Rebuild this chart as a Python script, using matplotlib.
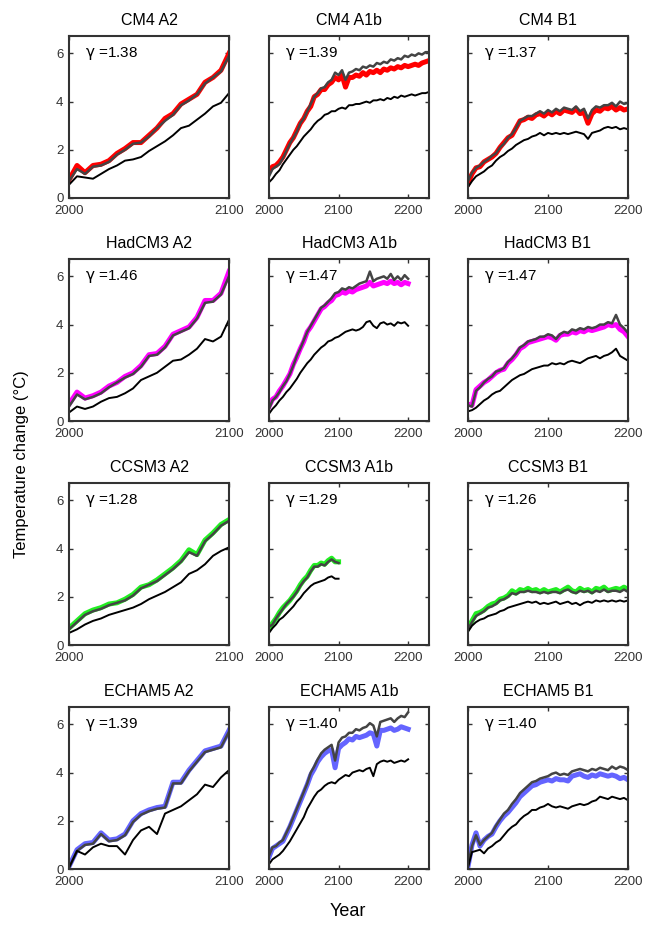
import numpy as np
import matplotlib
matplotlib.use('Agg')
import matplotlib.pyplot as plt

plt.rcParams['font.family'] = ['Liberation Sans', 'DejaVu Sans']

# values every 5 years starting in 2000
# CM4
cm4_a2_c = [0.75, 1.35, 1.05, 1.35, 1.4, 1.55, 1.85, 2.05, 2.3, 2.3, 2.6, 2.9, 3.3, 3.5, 3.9, 4.1, 4.3, 4.8, 5.0, 5.3, 6.0]
cm4_a2_g = [0.7, 1.2, 1.0, 1.3, 1.35, 1.5, 1.8, 2.0, 2.25, 2.3, 2.55, 2.9, 3.2, 3.45, 3.85, 4.05, 4.3, 4.75, 5.0, 5.25, 5.9]
cm4_a2_k = [0.55, 0.9, 0.85, 0.8, 1.0, 1.2, 1.35, 1.55, 1.6, 1.7, 1.95, 2.15, 2.35, 2.6, 2.9, 3.0, 3.25, 3.5, 3.8, 3.95, 4.35]

cm4_a1b_c = [1.1, 1.3, 1.35, 1.5, 1.7, 2.0, 2.3, 2.5, 2.8, 3.1,
             3.3, 3.6, 3.8, 4.2, 4.3, 4.5, 4.5, 4.7, 4.8, 5.0,
             4.9, 5.1, 4.6, 5.0, 5.0, 5.1, 5.05, 5.2, 5.1, 5.25,
             5.2, 5.3, 5.2, 5.35, 5.3, 5.4, 5.35, 5.45, 5.4, 5.5,
             5.45, 5.5, 5.55, 5.5, 5.6, 5.65, 5.7]
cm4_a1b_g = [0.9, 1.2, 1.3, 1.4, 1.65, 1.95, 2.25, 2.5, 2.75, 3.1,
             3.3, 3.6, 3.9, 4.2, 4.35, 4.55, 4.6, 4.8, 4.9, 5.2,
             5.1, 5.3, 4.9, 5.2, 5.25, 5.35, 5.3, 5.45, 5.4, 5.5,
             5.45, 5.6, 5.55, 5.65, 5.6, 5.75, 5.7, 5.8, 5.75, 5.9,
             5.85, 5.95, 5.9, 6.0, 5.95, 6.05, 6.05]
cm4_a1b_k = [0.65, 0.8, 1.0, 1.15, 1.4, 1.6, 1.8, 2.0, 2.15, 2.35,
             2.55, 2.7, 2.85, 3.05, 3.2, 3.3, 3.45, 3.5, 3.6, 3.6,
             3.7, 3.75, 3.7, 3.85, 3.85, 3.9, 3.9, 3.95, 4.0, 3.95,
             4.05, 4.05, 4.1, 4.05, 4.15, 4.1, 4.2, 4.15, 4.25, 4.2,
             4.25, 4.3, 4.25, 4.3, 4.35, 4.35, 4.4]

cm4_b1_c = [0.6, 1.0, 1.25, 1.3, 1.5, 1.6, 1.7, 1.85, 2.1, 2.3,
            2.5, 2.6, 2.9, 3.2, 3.25, 3.35, 3.3, 3.45, 3.5, 3.4,
            3.55, 3.45, 3.6, 3.5, 3.65, 3.6, 3.55, 3.7, 3.5, 3.55,
            3.1, 3.5, 3.65, 3.6, 3.75, 3.7, 3.8, 3.65, 3.75, 3.65, 3.7]
cm4_b1_g = [0.7, 1.05, 1.25, 1.35, 1.5, 1.6, 1.75, 1.85, 2.1, 2.25,
            2.5, 2.65, 2.9, 3.2, 3.3, 3.4, 3.4, 3.5, 3.6, 3.5,
            3.65, 3.55, 3.7, 3.6, 3.75, 3.7, 3.65, 3.8, 3.6, 3.7,
            3.3, 3.65, 3.8, 3.75, 3.85, 3.85, 3.95, 3.8, 4.0, 3.9, 3.95]
cm4_b1_k = [0.45, 0.7, 0.9, 1.0, 1.1, 1.25, 1.35, 1.55, 1.7, 1.8,
            1.95, 2.05, 2.2, 2.3, 2.4, 2.45, 2.55, 2.6, 2.7, 2.6,
            2.7, 2.65, 2.7, 2.65, 2.7, 2.65, 2.7, 2.75, 2.7, 2.65,
            2.45, 2.7, 2.75, 2.8, 2.9, 2.95, 2.9, 2.95, 2.85, 2.9, 2.85]

# HadCM3
had_a2_c = [0.7, 1.2, 0.95, 1.05, 1.2, 1.45, 1.6, 1.85, 2.0, 2.3, 2.75, 2.8, 3.1, 3.6, 3.75, 3.9, 4.3, 5.0, 5.0, 5.3, 6.2]
had_a2_g = [0.6, 1.1, 0.9, 1.0, 1.15, 1.4, 1.6, 1.8, 1.95, 2.25, 2.7, 2.75, 3.05, 3.55, 3.7, 3.85, 4.25, 4.9, 4.95, 5.25, 6.0]
had_a2_k = [0.35, 0.6, 0.5, 0.6, 0.8, 0.95, 1.0, 1.15, 1.35, 1.7, 1.85, 2.0, 2.25, 2.5, 2.55, 2.75, 3.0, 3.4, 3.3, 3.5, 4.2]

had_a1b_c = [0.6, 0.9, 1.0, 1.25, 1.45, 1.7, 1.95, 2.35, 2.65, 3.0,
             3.3, 3.7, 3.9, 4.15, 4.4, 4.65, 4.75, 4.9, 5.0, 5.2,
             5.25, 5.35, 5.3, 5.4, 5.35, 5.45, 5.5, 5.55, 5.6, 5.75,
             5.6, 5.65, 5.7, 5.75, 5.7, 5.8, 5.7, 5.75, 5.65, 5.75, 5.7]
had_a1b_g = [0.5, 0.85, 1.0, 1.2, 1.45, 1.65, 1.95, 2.3, 2.7, 3.0,
             3.35, 3.7, 3.95, 4.2, 4.45, 4.7, 4.8, 4.95, 5.1, 5.3,
             5.35, 5.5, 5.45, 5.55, 5.5, 5.6, 5.7, 5.75, 5.8, 6.2,
             5.8, 5.9, 5.95, 6.0, 5.9, 6.1, 5.85, 6.0, 5.85, 6.05, 5.9]
had_a1b_k = [0.3, 0.5, 0.65, 0.85, 1.0, 1.2, 1.35, 1.55, 1.75, 2.0,
             2.2, 2.4, 2.55, 2.75, 2.9, 3.05, 3.15, 3.3, 3.35, 3.45,
             3.5, 3.6, 3.7, 3.75, 3.8, 3.75, 3.8, 3.9, 4.1, 4.15,
             3.95, 3.85, 4.05, 4.1, 4.0, 4.05, 3.95, 4.1, 4.05, 4.1, 3.95]

had_b1_c = [0.7, 0.65, 1.3, 1.45, 1.6, 1.7, 1.85, 2.0, 2.1, 2.15,
            2.4, 2.55, 2.75, 3.0, 3.1, 3.25, 3.3, 3.35, 3.4, 3.45,
            3.5, 3.45, 3.35, 3.55, 3.6, 3.6, 3.7, 3.65, 3.75, 3.7,
            3.8, 3.75, 3.8, 3.85, 3.9, 4.0, 3.95, 4.0, 3.8, 3.7, 3.5]
had_b1_g = [0.65, 0.6, 1.25, 1.4, 1.6, 1.75, 1.85, 2.05, 2.1, 2.2,
            2.45, 2.6, 2.8, 3.05, 3.15, 3.3, 3.35, 3.4, 3.5, 3.5,
            3.6, 3.55, 3.4, 3.6, 3.7, 3.65, 3.8, 3.75, 3.85, 3.8,
            3.9, 3.85, 3.9, 4.0, 4.0, 4.1, 4.05, 4.4, 4.0, 3.85, 3.65]
had_b1_k = [0.4, 0.45, 0.55, 0.7, 0.85, 0.95, 1.1, 1.2, 1.25, 1.4,
            1.55, 1.7, 1.8, 1.9, 1.95, 2.05, 2.15, 2.2, 2.25, 2.3,
            2.3, 2.4, 2.35, 2.4, 2.35, 2.45, 2.5, 2.45, 2.4, 2.5,
            2.6, 2.65, 2.7, 2.6, 2.7, 2.75, 2.85, 3.0, 2.7, 2.6, 2.5]

# CCSM3
ccsm_a2_c = [0.7, 1.0, 1.3, 1.45, 1.55, 1.7, 1.75, 1.9, 2.1, 2.4, 2.5, 2.7, 2.95, 3.2, 3.5, 3.95, 3.75, 4.35, 4.65, 5.0, 5.2]
ccsm_a2_g = [0.65, 0.95, 1.25, 1.4, 1.5, 1.65, 1.75, 1.85, 2.05, 2.35, 2.5, 2.65, 2.9, 3.15, 3.45, 3.85, 3.7, 4.3, 4.6, 4.95, 5.15]
ccsm_a2_k = [0.5, 0.65, 0.85, 1.0, 1.1, 1.25, 1.35, 1.45, 1.55, 1.7, 1.9, 2.05, 2.2, 2.4, 2.6, 2.95, 3.1, 3.35, 3.7, 3.9, 4.05]

ccsm_a1b_c = [0.7, 0.9, 1.1, 1.35, 1.55, 1.7, 1.85, 2.05, 2.25, 2.5, 2.7, 2.85, 3.1, 3.3, 3.3, 3.4, 3.35, 3.5, 3.6, 3.45, 3.45]
ccsm_a1b_g = [0.75, 0.85, 1.1, 1.3, 1.5, 1.7, 1.85, 2.0, 2.2, 2.45, 2.65, 2.8, 3.05, 3.25, 3.25, 3.35, 3.3, 3.45, 3.55, 3.45, 3.4]
ccsm_a1b_k = [0.5, 0.7, 0.85, 1.05, 1.15, 1.3, 1.45, 1.6, 1.8, 1.95, 2.15, 2.3, 2.45, 2.55, 2.6, 2.65, 2.7, 2.8, 2.85, 2.75, 2.75]

ccsm_b1_c = [0.7, 1.0, 1.3, 1.35, 1.45, 1.6, 1.7, 1.75, 1.9, 1.95,
             2.05, 2.25, 2.15, 2.3, 2.25, 2.35, 2.25, 2.3, 2.2, 2.3,
             2.2, 2.25, 2.3, 2.2, 2.3, 2.4, 2.25, 2.2, 2.35, 2.25,
             2.3, 2.2, 2.35, 2.3, 2.4, 2.25, 2.3, 2.35, 2.3, 2.4, 2.3]
ccsm_b1_g = [0.65, 0.95, 1.2, 1.3, 1.4, 1.55, 1.6, 1.7, 1.85, 1.9,
             2.0, 2.15, 2.1, 2.2, 2.2, 2.25, 2.2, 2.2, 2.15, 2.2,
             2.15, 2.2, 2.2, 2.15, 2.25, 2.3, 2.2, 2.15, 2.25, 2.2,
             2.25, 2.15, 2.25, 2.2, 2.3, 2.2, 2.25, 2.25, 2.2, 2.3, 2.2]
ccsm_b1_k = [0.55, 0.8, 0.95, 1.05, 1.1, 1.2, 1.25, 1.3, 1.4, 1.45,
             1.55, 1.6, 1.65, 1.7, 1.75, 1.8, 1.75, 1.8, 1.7, 1.75,
             1.7, 1.75, 1.8, 1.7, 1.75, 1.8, 1.7, 1.75, 1.65, 1.75,
             1.8, 1.75, 1.85, 1.8, 1.85, 1.8, 1.85, 1.8, 1.85, 1.8, 1.85]

# ECHAM5
ech_a2_c = [0.1, 0.8, 1.05, 1.1, 1.5, 1.2, 1.25, 1.45, 2.0, 2.3, 2.45, 2.55, 2.6, 3.6, 3.6, 4.1, 4.5, 4.9, 5.0, 5.1, 5.75]
ech_a2_g = [0.05, 0.75, 1.0, 1.05, 1.45, 1.15, 1.2, 1.4, 1.95, 2.25, 2.4, 2.5, 2.55, 3.55, 3.55, 4.05, 4.45, 4.85, 4.95, 5.05, 5.7]
ech_a2_k = [0.05, 0.75, 0.6, 0.9, 1.05, 0.95, 0.95, 0.6, 1.2, 1.6, 1.75, 1.45, 2.3, 2.45, 2.6, 2.85, 3.1, 3.5, 3.4, 3.8, 4.1]

ech_a1b_c = [0.5, 0.85, 0.95, 1.05, 1.15, 1.45, 1.75, 2.1, 2.45, 2.8,
             3.15, 3.5, 3.9, 4.15, 4.45, 4.65, 4.8, 4.9, 4.95, 4.2,
             5.0, 5.15, 5.25, 5.4, 5.35, 5.5, 5.45, 5.5, 5.55, 5.65,
             5.6, 5.1, 5.75, 5.75, 5.8, 5.85, 5.75, 5.8, 5.9, 5.85, 5.8]
ech_a1b_g = [0.55, 0.9, 0.95, 1.1, 1.2, 1.5, 1.8, 2.15, 2.5, 2.85,
             3.2, 3.55, 4.0, 4.25, 4.55, 4.8, 4.95, 5.05, 5.15, 4.5,
             5.25, 5.45, 5.5, 5.65, 5.65, 5.8, 5.75, 5.85, 5.9, 6.05,
             5.95, 5.5, 6.1, 6.15, 6.2, 6.25, 6.1, 6.25, 6.35, 6.3, 6.5]
ech_a1b_k = [0.2, 0.4, 0.5, 0.6, 0.75, 0.95, 1.15, 1.4, 1.65, 1.9,
             2.15, 2.5, 2.75, 3.0, 3.2, 3.3, 3.45, 3.55, 3.6, 3.55,
             3.7, 3.8, 3.9, 3.85, 4.0, 4.05, 4.1, 4.05, 4.15, 4.2,
             3.85, 4.35, 4.45, 4.5, 4.45, 4.5, 4.4, 4.45, 4.5, 4.45, 4.55]

ech_b1_c = [0.1, 1.0, 1.5, 0.95, 1.2, 1.35, 1.45, 1.75, 2.0, 2.2,
            2.35, 2.55, 2.75, 3.0, 3.15, 3.3, 3.45, 3.5, 3.6, 3.65,
            3.7, 3.65, 3.75, 3.7, 3.7, 3.65, 3.85, 3.9, 3.95, 3.85,
            3.8, 3.9, 3.85, 3.95, 3.9, 3.85, 3.9, 3.85, 3.75, 3.8, 3.7]
ech_b1_g = [0.15, 0.95, 1.4, 1.0, 1.2, 1.35, 1.5, 1.8, 2.05, 2.3,
            2.45, 2.7, 2.9, 3.15, 3.3, 3.45, 3.6, 3.65, 3.75, 3.8,
            3.85, 3.95, 4.0, 3.9, 3.95, 3.9, 4.05, 4.1, 4.15, 4.1,
            4.05, 4.15, 4.1, 4.2, 4.15, 4.1, 4.25, 4.15, 4.25, 4.2, 4.1]
ech_b1_k = [0.05, 0.7, 0.75, 0.8, 0.65, 0.85, 0.95, 1.1, 1.2, 1.4,
            1.6, 1.75, 1.85, 2.05, 2.2, 2.3, 2.45, 2.45, 2.55, 2.6,
            2.7, 2.6, 2.55, 2.6, 2.55, 2.5, 2.6, 2.65, 2.7, 2.65,
            2.7, 2.8, 2.85, 3.0, 2.95, 2.9, 3.0, 2.95, 2.9, 2.95, 2.85]

models = ['CM4', 'HadCM3', 'CCSM3', 'ECHAM5']
scenarios = ['A2', 'A1b', 'B1']
colors = ['#ff0000', '#ff00ff', '#22ee22', '#6464ff']
gammas = [[1.38, 1.39, 1.37],
          [1.46, 1.47, 1.47],
          [1.28, 1.29, 1.26],
          [1.39, 1.40, 1.40]]
series = [[(cm4_a2_c, cm4_a2_g, cm4_a2_k), (cm4_a1b_c, cm4_a1b_g, cm4_a1b_k), (cm4_b1_c, cm4_b1_g, cm4_b1_k)],
          [(had_a2_c, had_a2_g, had_a2_k), (had_a1b_c, had_a1b_g, had_a1b_k), (had_b1_c, had_b1_g, had_b1_k)],
          [(ccsm_a2_c, ccsm_a2_g, ccsm_a2_k), (ccsm_a1b_c, ccsm_a1b_g, ccsm_a1b_k), (ccsm_b1_c, ccsm_b1_g, ccsm_b1_k)],
          [(ech_a2_c, ech_a2_g, ech_a2_k), (ech_a1b_c, ech_a1b_g, ech_a1b_k), (ech_b1_c, ech_b1_g, ech_b1_k)]]

xlims = [(2000, 2100), (2000, 2230), (2000, 2200)]
xticks = [[2000, 2100], [2000, 2100, 2200], [2000, 2100, 2200]]

W, H = 653, 927
fig = plt.figure(figsize=(W / 100, H / 100), dpi=100)

lefts = [69, 269, 468]
bottoms = [198, 421, 645, 869]
aw, ah = 160, 162
edge = '#333333'

for r in range(4):
    for c in range(3):
        ax = fig.add_axes([lefts[c] / W, 1 - bottoms[r] / H, aw / W, ah / H])
        col, gry, blk = series[r][c]
        yrs = np.arange(2000, 2000 + 5 * len(col), 5)
        ax.plot(yrs, col, color=colors[r], lw=3.6, solid_joinstyle='round')
        ax.plot(yrs, gry, color='#444444', lw=1.8)
        ax.plot(yrs, blk, color='black', lw=1.4)
        ax.set_xlim(*xlims[c])
        ax.set_ylim(0, 6.72)
        ax.set_xticks(xticks[c])
        ax.set_yticks([0, 2, 4, 6])
        ax.tick_params(direction='in', length=3, width=1, colors=edge,
                       top=True, right=True, labelsize=9.5,
                       labelcolor='#333333')
        ax.tick_params(axis='x', pad=5)
        ax.tick_params(axis='y', pad=4)
        if c > 0:
            ax.set_yticklabels([])
        for s in ax.spines.values():
            s.set_color(edge)
            s.set_linewidth(1.5)
        ax.set_title(models[r] + ' ' + scenarios[c], fontsize=11.5, pad=8)
        ax.text(0.1, 0.895, r'$\mathrm{\gamma}$ =%.2f' % gammas[r][c],
                transform=ax.transAxes, fontsize=11, va='center', ha='left')

fig.text(22 / W, 1 - 464 / H, 'Temperature change (°C)', rotation=90,
         fontsize=12, ha='center', va='center')
fig.text(348 / W, 1 - 912 / H, 'Year', fontsize=13, ha='center', va='center')

fig.savefig('out.png', dpi=100)
